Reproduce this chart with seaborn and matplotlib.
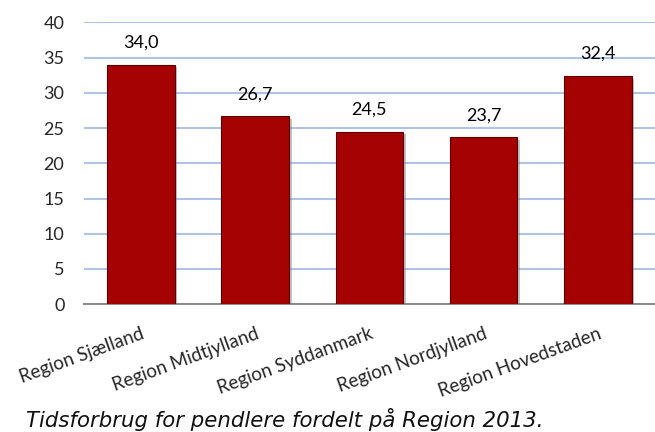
import numpy as np
import pandas as pd
import seaborn as sns
import matplotlib.pyplot as plt
import matplotlib.patheffects as pe

# Tidsforbrug for pendlere fordelt paa region, 2013
regions = ["Region Sjælland", "Region Midtjylland", "Region Syddanmark",
           "Region Nordjylland", "Region Hovedstaden"]
minutes = [34.0, 26.7, 24.5, 23.7, 32.4]
y_ticks = [0, 5, 10, 15, 20, 25, 30, 35, 40]
caption = "Tidsforbrug for pendlere fordelt på Region 2013."

df = pd.DataFrame({"region": regions, "tid": minutes})

sns.set_style("white")
plt.rcParams['font.family'] = ['Lato', 'DejaVu Sans']

fig = plt.figure(figsize=(6.55, 4.32), dpi=100)
ax = fig.add_axes([0.128, 0.296, 0.872, 0.652])

sns.barplot(data=df, x="region", y="tid", color="#A50303", saturation=1,
            width=0.59, edgecolor="#5c0000", linewidth=0.8, ax=ax, zorder=3)

for bar in ax.patches:
    bar.set_path_effects([pe.SimplePatchShadow(offset=(2, -2), shadow_rgbFace="#888888", alpha=0.5),
                          pe.Normal()])

for bar, v in zip(ax.patches, minutes):
    ax.annotate(f"{v:.1f}".replace(".", ","),
                (bar.get_x() + bar.get_width() / 2, bar.get_height()),
                xytext=(0, 10), textcoords="offset points",
                ha="center", va="bottom", fontsize=13, color="black")

ax.set_xlim(-0.5, len(regions) - 0.5)
ax.set_ylim(0, 40)
ax.set_yticks(y_ticks)
ax.set_yticklabels([str(t) for t in y_ticks], fontsize=13)
ax.yaxis.grid(True, color="#AFC3E6", linewidth=1.5, zorder=0)
ax.set_axisbelow(True)

ax.set_xticks(range(len(regions)))
ax.set_xticklabels(regions, rotation=20, ha="right", rotation_mode="anchor", fontsize=13.5)
ax.set_xticks(np.arange(-0.5, len(regions), 1.0), minor=True)
ax.tick_params(axis="x", which="major", length=0, pad=15)
ax.tick_params(axis="x", which="minor", length=4, width=1.2, color="#888888", direction="out")
ax.tick_params(axis="y", length=0, pad=14)

for s in ["top", "right", "left"]:
    ax.spines[s].set_visible(False)
ax.spines["bottom"].set_color("#888888")
ax.spines["bottom"].set_linewidth(1.4)

ax.set_xlabel("")
ax.set_ylabel("")

fig.text(0.04, 0.012, caption, fontsize=15.3, style="italic",
         family=["DejaVu Sans"], color="#111111")

fig.savefig("out.png", dpi=100)
